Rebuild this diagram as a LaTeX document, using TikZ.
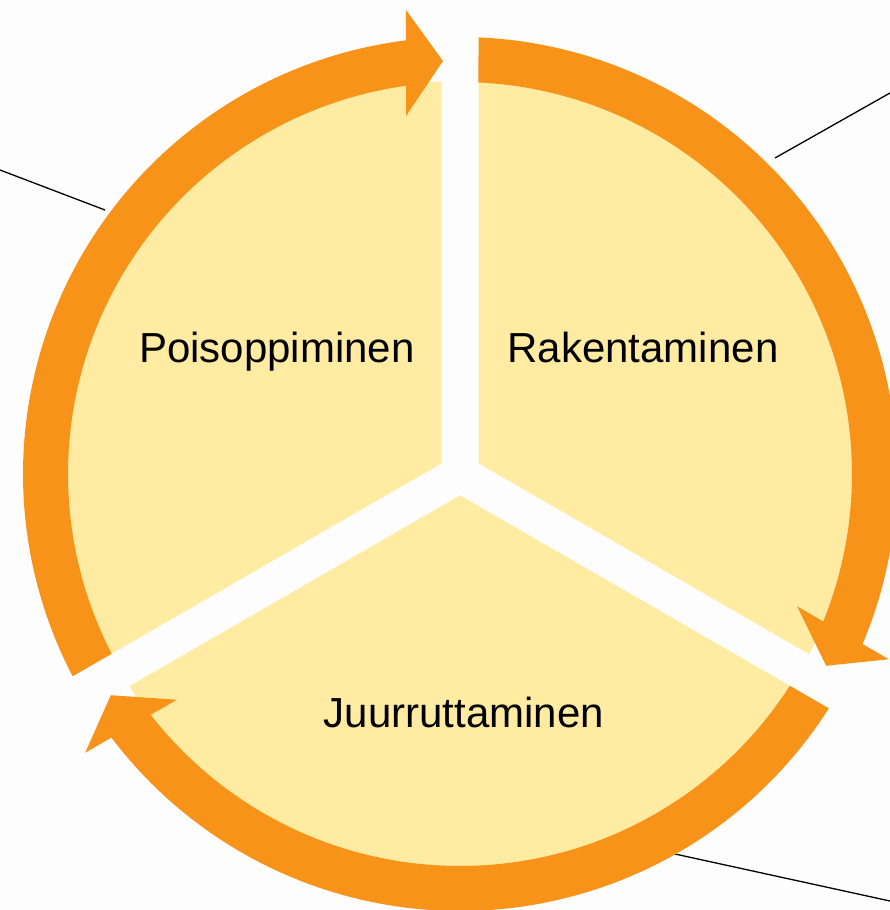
\documentclass[tikz,border=0pt]{standalone}
\usepackage{fontspec}
\setmainfont{Liberation Sans}
\definecolor{ringorange}{HTML}{F8931A}
\definecolor{sectoryellow}{HTML}{FFEBA1}
\definecolor{paper}{HTML}{FDFDFD}

\begin{document}
\begin{tikzpicture}[x=1pt,y=1pt,
  sector/.style={fill=sectoryellow},
  ring/.style={fill=ringorange},
  lbl/.style={font=\fontsize{42}{50}\selectfont,inner sep=0pt,anchor=base}]
\fill[paper] (-460,-436) rectangle (430,474);
\useasboundingbox (-460,-436) rectangle (430,474);
\coordinate (O) at (0,0);
\coordinate (L1) at (-460,304);
\coordinate (R1) at (-355,264);
\coordinate (L2) at (315,316);
\coordinate (R2) at (430,381);
\coordinate (L3) at (215,-380);
\coordinate (R3) at (430,-427);
\draw [line width=1.3pt] (L1) -- (R1);
\draw [line width=1.3pt] (L2) -- (R2);
\draw [line width=1.3pt] (L3) -- (R3);
\foreach \r in {0,120,240}
	\fill[sector,rotate=\r] (150:21.4) -- (92.7:393) arc[start angle=92.7,end angle=207.3,radius=393pt] -- cycle;
\foreach \r in {0,120,240}
	\fill[ring,rotate=\r] (207.57:437) arc[start angle=207.57,end angle=97.1,radius=437pt]
		-- (-54,464) -- (-17,413) -- (-54,358)
		-- (97.9:392) arc[start angle=97.9,end angle=207.3,radius=392pt] -- cycle;
\node[lbl] (pois) at (-183,111) {Poisoppiminen};
\node[lbl] (rak) at (183,111) {Rakentaminen};
\node[lbl] (juur) at (4,-253) {Juurruttaminen};
\end{tikzpicture}
\end{document}
